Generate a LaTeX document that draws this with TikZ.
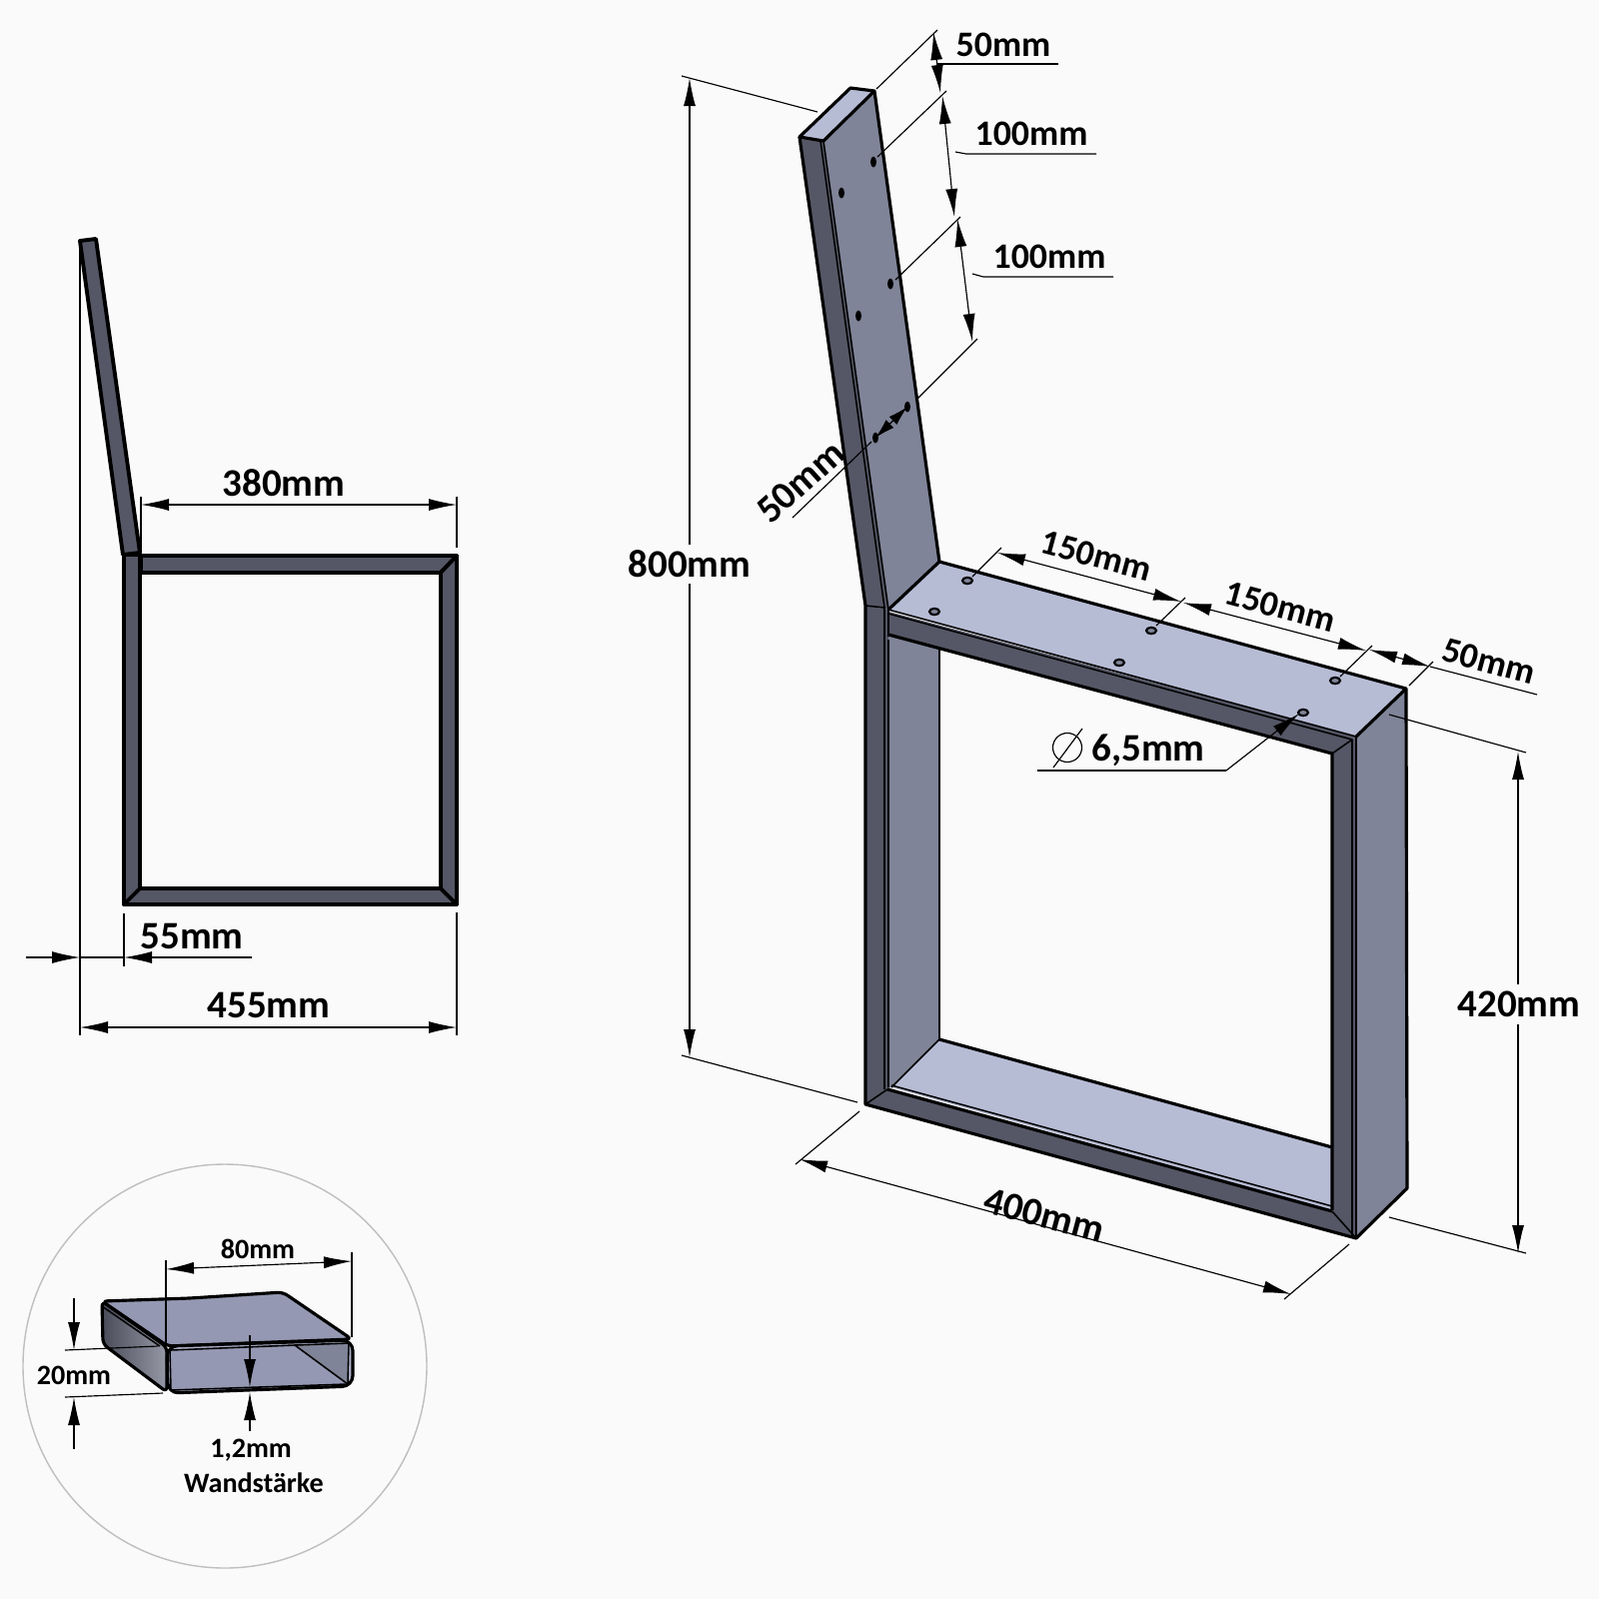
\documentclass[tikz,border=0pt]{standalone}
\usepackage{fontspec}
\setmainfont{Carlito}
\usetikzlibrary{arrows.meta}

\definecolor{paper}{RGB}{250,250,250}
\definecolor{steeldark}{RGB}{85,87,102}
\definecolor{steelmid}{RGB}{128,132,152}
\definecolor{steellight}{RGB}{183,188,213}
\definecolor{tubetop}{RGB}{148,152,178}
\definecolor{tubeside}{RGB}{105,108,128}

\begin{document}
\begin{tikzpicture}[x=0.1mm,y=-0.1mm]

\tikzset{edge/.style = {draw=black,line width=0.9pt,line join=round}}
\tikzset{sideedge/.style = {draw=black,line width=1.1pt,line join=round}}
\tikzset{seam/.style = {draw=black,line width=0.45pt,line join=round}}
\tikzset{ext/.style = {draw=black,line width=0.33pt}}
\tikzset{dimarc/.style = {ext,>={Latex[length=2.8mm,width=1.2mm]}}}
\tikzset{dimshort/.style = {ext,>={Latex[length=2mm,width=1.1mm]}}}
\tikzset{big/.style = {inner sep=0pt,font=\fontsize{11.1}{12}\bfseries\selectfont}}
\tikzset{mid/.style = {inner sep=0pt,font=\fontsize{10.2}{11}\bfseries\selectfont}}
\tikzset{small/.style = {inner sep=0pt,font=\fontsize{8}{9}\bfseries\selectfont}}
\tikzset{posthole/.style = {fill=black,draw=none}}
\tikzset{seathole/.style = {fill=steelmid,draw=black,line width=0.6pt}}

% background
\fill[paper] (0,0) rectangle (1600,1600);

% side view
\draw[sideedge,fill=steeldark] (80,241) -- (96,239) -- (140,553) -- (123,555) -- cycle;
\draw[sideedge,fill=steeldark] (124,555) -- (140,555) -- (140,905) -- (124,905) -- cycle;
\draw[sideedge,fill=steeldark] (124,905) -- (457,905) -- (441,889) -- (140,889) -- cycle;
\draw[sideedge,fill=steeldark] (141,556) -- (457,556) -- (441,573) -- (141,573) -- cycle;
\draw[sideedge,fill=steeldark] (457,556) -- (457,905) -- (441,889) -- (441,573) -- cycle;

% side view dimensions
\draw[ext] (80,241) to (80,1036);
\draw[ext] (124,914) to (124,967);
\draw[ext] (457,913) to (457,1036);
\draw[ext] (141,497) to (141,553);
\draw[ext] (457,497) to (457,548);
\draw[dimarc,<->] (141,505) to (457,505);
\draw[dimarc,<->] (80,1028) to (457,1028);
\draw[dimarc,->] (26,958) to (80,958);
\draw[ext] (80,958) to (124,958);
\draw[dimarc,->] (252,958) to (124,958);
\node[big] (seat380) at (284,483) {380mm};
\node[big] (side55) at (192,937) {55mm};
\node[big] (side455) at (269,1006) {455mm};

% fills of back plate and frame
\fill[steeldark] (800,137) -- (824,141) -- (889,610) -- (866,606) -- cycle;
\fill[steelmid] (824,141) -- (875,91) -- (940,562) -- (889,610) -- cycle;
\fill[steellight] (800,137) -- (851,88) -- (875,91) -- (824,141) -- cycle;
\fill[steelmid] (889,635) -- (940,650) -- (940,1040) -- (889,1090) -- cycle;
\fill[steellight] (892,1088) -- (940,1040) -- (1333,1148) -- (1333,1211) -- cycle;
\fill[steeldark] (866,606) -- (889,610) -- (889,1090) -- (866,1105) -- cycle;
\fill[steeldark] (889,612) -- (1357,737) -- (1333,754) -- (889,635) -- cycle;
\fill[steeldark] (1333,754) -- (1357,737) -- (1357,1239) -- (1333,1211) -- cycle;
\fill[steeldark] (866,1105) -- (888,1090) -- (1333,1212) -- (1357,1239) -- cycle;
\fill[steellight] (889,610) -- (940,562) -- (1407,689) -- (1357,737) -- cycle;
\fill[steelmid] (1357,737) -- (1407,689) -- (1408,1189) -- (1357,1239) -- cycle;

% outer lines
\draw[edge] (824,141) -- (800,137) -- (851,88) -- (875,91) -- (940,562) -- (889,610);
\draw[edge] (800,137) -- (866,606) -- (866,1105) -- (1357,1239) -- (1408,1189) -- (1407,689) -- (940,562);
\draw[edge] (875,91) -- (824,141);
\draw[edge] (1407,689) -- (1357,737);
\draw[edge] (889,635) -- (1333,754) -- (1333,1211);
\draw[edge] (888,1090) -- (1333,1212);
\draw[edge] (940,1040) -- (1333,1148);

% seams
\draw[seam] (821,141) -- (885,608) -- (885,1090);
\draw[seam] (824,141) -- (889,610) -- (889,637);
\draw[seam] (889,640) -- (889,1088);
\draw[seam] (866,606) -- (885,608);
\draw[seam] (889,610) -- (1357,737) -- (1357,1239);
\draw[seam] (889,614) -- (1353,740) -- (1353,1236);
\draw[seam] (940,650) -- (940,1040) -- (892,1088);
\draw[seam] (892,1086) -- (1333,1207);
\draw[seam] (866,1105) -- (888,1090);
\draw[seam] (1333,1212) -- (1357,1239);
\draw[seam] (1333,754) -- (1353,740);

% holes
\fill[posthole] (874,162) ellipse (3 and 5.5);
\fill[posthole] (842,193) ellipse (3 and 5.5);
\fill[posthole] (891,284) ellipse (3 and 5.5);
\fill[posthole] (859,316) ellipse (3 and 5.5);
\fill[posthole] (908,407) ellipse (3 and 5.5);
\fill[posthole] (876,438) ellipse (3 and 5.5);
\draw[seathole] (968,581) ellipse (5 and 3.2);
\draw[seathole] (935,612) ellipse (5 and 3.2);
\draw[seathole] (1152,631) ellipse (5 and 3.2);
\draw[seathole] (1120,663) ellipse (5 and 3.2);
\draw[seathole] (1336,681) ellipse (5 and 3.2);
\draw[seathole] (1304,713) ellipse (5 and 3.2);

% back plate dimensions
\draw[ext] (877,89) to (938,30);
\draw[ext] (878,157) to (947,91);
\draw[ext] (896,280) to (961,217);
\draw[ext] (917,400) to (978,339);
\draw[dimarc,<->] (934,32) to (941,93);
\draw[dimarc,<->] (943,96) to (955,217);
\draw[dimarc,<->] (958,219) to (973,342);
\node[mid] (top50) at (1004,45) {50mm};
\draw[ext] (938,64) to (1059,64);
\node[mid] (upper100) at (1032,134) {100mm};
\draw[ext] (956,152) to (967,154) to (1097,154);
\node[mid] (lower100) at (1050,257) {100mm};
\draw[ext] (973,274) to (984,277) to (1114,277);
\draw[dimshort,<->] (876,438) to (908,407);
\draw[ext] (793,518) to (872,442);
\node[big,rotate=42] (hole50) at (801,482) {50mm};

% seat dimensions
\draw[ext] (973,577) to (1002,548);
\draw[ext] (1157,626) to (1186,598);
\draw[ext] (1341,677) to (1373,646);
\draw[ext] (1410,686) to (1434,662);
\draw[dimarc,<->] (998,553) to (1182,602);
\draw[dimarc,<->] (1184,603) to (1367,651);
\draw[dimarc,<->] (1370,650) to (1431,667);
\draw[ext] (1431,667) to (1538,695);
\node[mid,rotate=-15] (seat150a) at (1097,556) {150mm};
\node[mid,rotate=-15] (seat150b) at (1281,607) {150mm};
\node[mid,rotate=-15] (seat50) at (1490,662) {50mm};

% hole diameter
\draw[dimarc,->] (1227,771) to (1300,714);
\draw[ext] (1038,771) to (1227,771);
\draw[ext] (1068,748) circle (14.5);
\draw[ext] (1054,768) to (1083,729);
\node[big] (hole65) at (1149,751) {6,5mm};

% overall dimensions
\draw[ext] (682,76) to (818,112);
\draw[ext] (682,1056) to (858,1103);
\node[big] (total800) at (690,564) {800mm};
\draw[dimarc,->] (690,545) to (690,78);
\draw[dimarc,->] (690,584) to (690,1058);
\draw[ext] (1390,715) to (1527,753);
\draw[ext] (1390,1218) to (1527,1254);
\node[big] (frame420) at (1520,1005) {420mm};
\draw[dimarc,->] (1519,985) to (1519,752);
\draw[dimarc,->] (1519,1025) to (1519,1254);
\draw[ext] (860,1112) to (796,1165);
\draw[ext] (1350,1245) to (1285,1300);
\draw[dimarc,<->] (800,1160) to (1292,1295);
\node[big,rotate=-15] (frame400) at (1045,1216) {400mm};

% detail circle
\draw[black!25,line width=0.4pt] (225,1367) circle (202);

% tube
\draw[edge,fill=tubetop,rounded corners=1.5] (102,1302) -- (190,1299) -- (283,1293) -- (352,1340) -- (168,1347) -- cycle;
\draw[edge,left color=tubeside!70!black,right color=tubeside!70,rounded corners=1.5] (102,1302) -- (167,1348) -- (167,1393) -- (103,1345) -- cycle;
\draw[seam] (102,1307) -- (160,1347);
\draw[edge,fill=steellight!85!steelmid,rounded corners=3] (167,1347) -- (353,1341) -- (353,1387) -- (168,1394) -- cycle;
\fill[tubetop] (170,1351) -- (295,1346) -- (348,1385) -- (171,1391) -- cycle;
\draw[seam,fill=steelmid] (295,1346) -- (349,1344) -- (348,1385) -- cycle;
\draw[seam] (170,1351) -- (171,1391) -- (348,1385);
\draw[seam] (170,1351) -- (295,1346);

% tube dimensions
\draw[ext] (166,1261) to (166,1345);
\draw[ext] (352,1253) to (352,1338);
\draw[dimarc,<->] (166,1270) to (352,1262);
\node[small] (tube80) at (258,1250) {80mm};
\draw[ext] (65,1351) to (158,1347);
\draw[ext] (65,1398) to (163,1394);
\draw[dimarc,->] (74,1299) to (74,1351);
\draw[dimarc,->] (74,1450) to (74,1398);
\node[small] (tube20) at (74,1376) {20mm};
\draw[dimarc,->] (250,1336) to (250,1388);
\draw[dimarc,->] (250,1432) to (250,1393);
\node[small] (wall12) at (251,1451) {1,2mm};
\node[small] (wallname) at (254,1484) {Wandstärke};

\end{tikzpicture}
\end{document}
